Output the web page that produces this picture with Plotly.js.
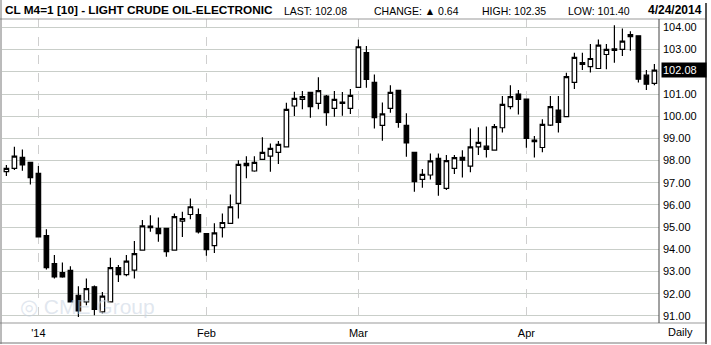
<!DOCTYPE html>
<html>
<head>
<meta charset="utf-8">
<script src="https://cdn.plot.ly/plotly-3.0.1.min.js"></script>
<style>
html,body{margin:0;padding:0;background:#fff;}
#chart{width:711px;height:345px;}
</style>
</head>
<body>
<div id="chart"></div>
<script>
// ---- data ----
const dates = [
 "2013-12-26","2013-12-27","2013-12-30","2013-12-31",
 "2014-01-02","2014-01-03","2014-01-06","2014-01-07","2014-01-08","2014-01-09","2014-01-10",
 "2014-01-13","2014-01-14","2014-01-15","2014-01-16","2014-01-17",
 "2014-01-21","2014-01-22","2014-01-23","2014-01-24",
 "2014-01-27","2014-01-28","2014-01-29","2014-01-30","2014-01-31",
 "2014-02-03","2014-02-04","2014-02-05","2014-02-06","2014-02-07",
 "2014-02-10","2014-02-11","2014-02-12","2014-02-13","2014-02-14",
 "2014-02-18","2014-02-19","2014-02-20","2014-02-21",
 "2014-02-24","2014-02-25","2014-02-26","2014-02-27","2014-02-28",
 "2014-03-03","2014-03-04","2014-03-05","2014-03-06","2014-03-07",
 "2014-03-10","2014-03-11","2014-03-12","2014-03-13","2014-03-14",
 "2014-03-17","2014-03-18","2014-03-19","2014-03-20","2014-03-21",
 "2014-03-24","2014-03-25","2014-03-26","2014-03-27","2014-03-28",
 "2014-03-31",
 "2014-04-01","2014-04-02","2014-04-03","2014-04-04",
 "2014-04-07","2014-04-08","2014-04-09","2014-04-10","2014-04-11",
 "2014-04-14","2014-04-15","2014-04-16","2014-04-17",
 "2014-04-21","2014-04-22","2014-04-23","2014-04-24"
];
const openP = [
 97.50,97.65,98.14,97.92,
 97.42,94.62,93.36,92.95,93.05,91.93,91.63,92.31,91.18,91.63,93.18,92.86,
 93.06,93.96,95.05,94.94,94.94,93.96,95.27,95.57,95.57,
 94.71,94.17,94.98,95.17,96.07,97.87,97.53,98.05,98.20,98.37,
 98.62,100.46,100.76,101.07,100.58,100.91,100.35,100.64,100.35,
 101.30,102.87,101.52,99.59,100.35,101.16,99.59,98.37,97.15,97.35,
 98.10,96.75,97.65,98.14,97.75,98.62,98.65,98.47,99.48,100.43,101.00,
 100.77,98.92,98.59,99.60,100.28,99.98,101.52,102.42,102.23,102.15,
 102.78,103.03,103.01,103.68,103.62,101.85,101.48
];
const highP = [
 97.80,98.62,98.50,97.95,
 97.75,94.91,93.74,93.41,93.24,92.34,92.68,92.37,92.08,93.62,93.29,93.74,
 94.37,95.32,95.54,95.44,94.97,95.62,95.69,96.29,95.84,
 94.74,95.17,95.62,96.47,98.02,98.20,98.20,99.05,98.77,98.88,
 100.61,101.10,101.13,101.09,101.75,100.95,101.13,101.09,101.22,
 103.46,103.16,101.88,100.62,101.40,101.18,100.13,98.39,97.62,98.32,
 98.32,98.25,98.25,98.47,99.45,99.50,99.53,99.65,100.91,101.40,101.18,
 100.79,99.11,99.86,100.91,100.91,101.96,102.86,102.86,103.25,103.46,
 103.25,104.10,103.95,103.83,103.65,102.08,102.35
];
const lowP = [
 97.30,97.57,97.54,96.92,
 94.53,93.09,92.68,92.72,91.60,90.95,91.48,91.03,91.11,91.60,92.53,92.79,
 92.68,93.94,94.79,94.34,93.66,93.94,94.56,95.35,94.71,
 93.71,93.84,94.53,95.15,95.39,97.20,97.50,98.03,97.50,97.84,
 98.60,100.01,100.31,99.93,100.31,99.57,99.98,100.02,100.10,
 101.28,101.28,99.45,98.89,100.16,99.48,98.17,96.60,96.78,97.15,
 96.42,96.67,97.39,97.24,97.47,98.25,98.14,98.45,99.26,100.31,100.08,
 98.58,98.14,98.37,99.56,99.26,99.96,101.22,102.08,101.97,102.13,
 102.12,102.41,102.71,102.95,101.52,101.18,101.40
];
const closeP = [
 97.65,98.20,97.80,97.23,
 94.56,93.18,92.76,92.76,91.63,91.23,92.23,91.29,91.89,93.18,92.86,93.47,
 93.81,95.06,94.98,94.71,93.89,95.47,95.39,95.92,94.79,
 93.99,94.74,95.21,95.92,97.83,97.77,97.92,98.37,98.55,98.73,
 100.31,100.80,100.88,100.43,101.15,100.16,100.76,100.58,100.94,
 103.13,101.66,99.93,100.10,101.07,99.72,98.80,97.05,97.38,97.99,
 96.93,98.00,98.13,98.02,98.62,98.82,98.50,99.53,100.53,100.88,100.76,
 99.00,98.85,99.63,100.43,99.72,101.78,102.65,102.33,102.60,103.20,
 103.01,102.97,103.38,103.58,101.67,101.44,102.08
];
const monthTickDates = ["2014-01-02","2014-02-03","2014-03-03","2014-04-01"];
const monthTickLabels = ["'14","Feb","Mar","Apr"];
const priceTicks = [91,92,93,94,95,96,97,98,99,100,101,102,103,104];
const lastPrice = 102.08;
const headerTitle = "CL M4=1 [10] - LIGHT CRUDE OIL-ELECTRONIC";
const headerLast = "LAST: 102.08";
const headerChange = "CHANGE: \u25B2 0.64";
const headerHigh = "HIGH: 102.35";
const headerLow = "LOW: 101.40";
const headerDate = "4/24/2014";

// ---- layout helpers (pixel -> paper) ----
const W = 711, H = 345;
const M = {l:2, r:52, t:19, b:22};
const PW = W - M.l - M.r, PH = H - M.t - M.b;
const px = x => (x - M.l) / PW;
const py = y => (H - M.b - y) / PH;

const priceText = priceTicks.map(v => v === 102 ? "" : v.toFixed(2));

const trace = {
  type: 'candlestick',
  x: dates, open: openP, high: highP, low: lowP, close: closeP,
  increasing: {line: {color: '#000', width: 1.2}, fillcolor: '#fff'},
  decreasing: {line: {color: '#000', width: 1.2}, fillcolor: '#000'},
  whiskerwidth: 0,
  hoverinfo: 'none'
};

const hdrFont = {family: 'Liberation Sans, Arial, sans-serif', size: 10.5, color: '#000'};
const ann = [
  {text: headerTitle, x: px(3), y: py(10), xanchor: 'left', font: {family: 'Liberation Sans, Arial, sans-serif', size: 11.8, color: '#000', weight: 'bold'}},
  {text: headerLast, x: px(282), y: py(11), xanchor: 'left', font: hdrFont},
  {text: headerChange, x: px(372), y: py(11), xanchor: 'left', font: hdrFont},
  {text: headerHigh, x: px(480), y: py(11), xanchor: 'left', font: hdrFont},
  {text: headerLow, x: px(566), y: py(11), xanchor: 'left', font: hdrFont},
  {text: headerDate, x: px(704), y: py(10), xanchor: 'right', font: {family: 'Liberation Sans, Arial, sans-serif', size: 12, color: '#000', weight: 'bold'}},
  {text: 'Daily', x: px(666), y: py(332), xanchor: 'left', font: {family: 'Liberation Sans, Arial, sans-serif', size: 11, color: '#000'}},
  {text: lastPrice.toFixed(2), xref: 'paper', yref: 'y', x: px(661), y: lastPrice, xanchor: 'left',
   bgcolor: '#000', borderpad: 1, width: 42, align: 'left',
   font: {family: 'Liberation Sans, Arial, sans-serif', size: 11, color: '#fff'}},
  {text: '\u25CE CME Group', x: px(18), y: py(306), xanchor: 'left',
   font: {family: 'Liberation Sans, Arial, sans-serif', size: 21, color: 'rgba(200,210,225,0.55)'}}
].map(a => Object.assign({xref: 'paper', yref: 'paper', showarrow: false, yanchor: 'middle'}, a));

const frameColor = '#777';
const shapes = [
  {type: 'line', xref: 'paper', yref: 'paper', x0: px(0), x1: px(707), y0: py(19), y1: py(19), line: {color: '#999', width: 1}},
  {type: 'line', xref: 'paper', yref: 'paper', x0: px(0), x1: px(707), y0: py(323), y1: py(323), line: {color: '#999', width: 1}},
  {type: 'line', xref: 'paper', yref: 'paper', x0: px(1), x1: px(1), y0: py(0), y1: py(344), line: {color: frameColor, width: 1}},
  {type: 'line', xref: 'paper', yref: 'paper', x0: px(706), x1: px(706), y0: py(3), y1: py(344), line: {color: '#555', width: 2}},
  {type: 'line', xref: 'paper', yref: 'paper', x0: px(0), x1: px(707), y0: py(343), y1: py(343), line: {color: frameColor, width: 1}},
  {type: 'line', xref: 'paper', yref: 'paper', x0: px(659), x1: px(659), y0: py(19), y1: py(323), line: {color: '#444', width: 1}}
];

const layout = {
  width: W, height: H,
  margin: M,
  paper_bgcolor: '#fff', plot_bgcolor: '#fff',
  showlegend: false,
  boxgap: 0.2,
  font: {family: 'Liberation Sans, Arial, sans-serif', size: 11, color: '#000'},
  xaxis: {
    type: 'category',
    range: [-0.55, 81.575],
    rangeslider: {visible: false},
    tickmode: 'array', tickvals: monthTickDates, ticktext: monthTickLabels,
    showgrid: true, gridcolor: '#cfcfcf', griddash: 'dash', gridwidth: 1,
    ticks: '', showline: false, zeroline: false,
    tickfont: {size: 11, color: '#000'},
    ticklabelstandoff: 2,
    fixedrange: true
  },
  yaxis: {
    side: 'right',
    range: [90.68, 104.38],
    tickmode: 'array', tickvals: priceTicks, ticktext: priceText,
    showgrid: true, gridcolor: '#c9cec9', gridwidth: 1,
    ticks: '', showline: false, zeroline: false,
    tickfont: {size: 11, color: '#000'},
    ticklabelstandoff: 3,
    fixedrange: true
  },
  annotations: ann,
  shapes: shapes
};

Plotly.newPlot('chart', [trace], layout, {displayModeBar: false, staticPlot: true});
</script>
</body>
</html>
